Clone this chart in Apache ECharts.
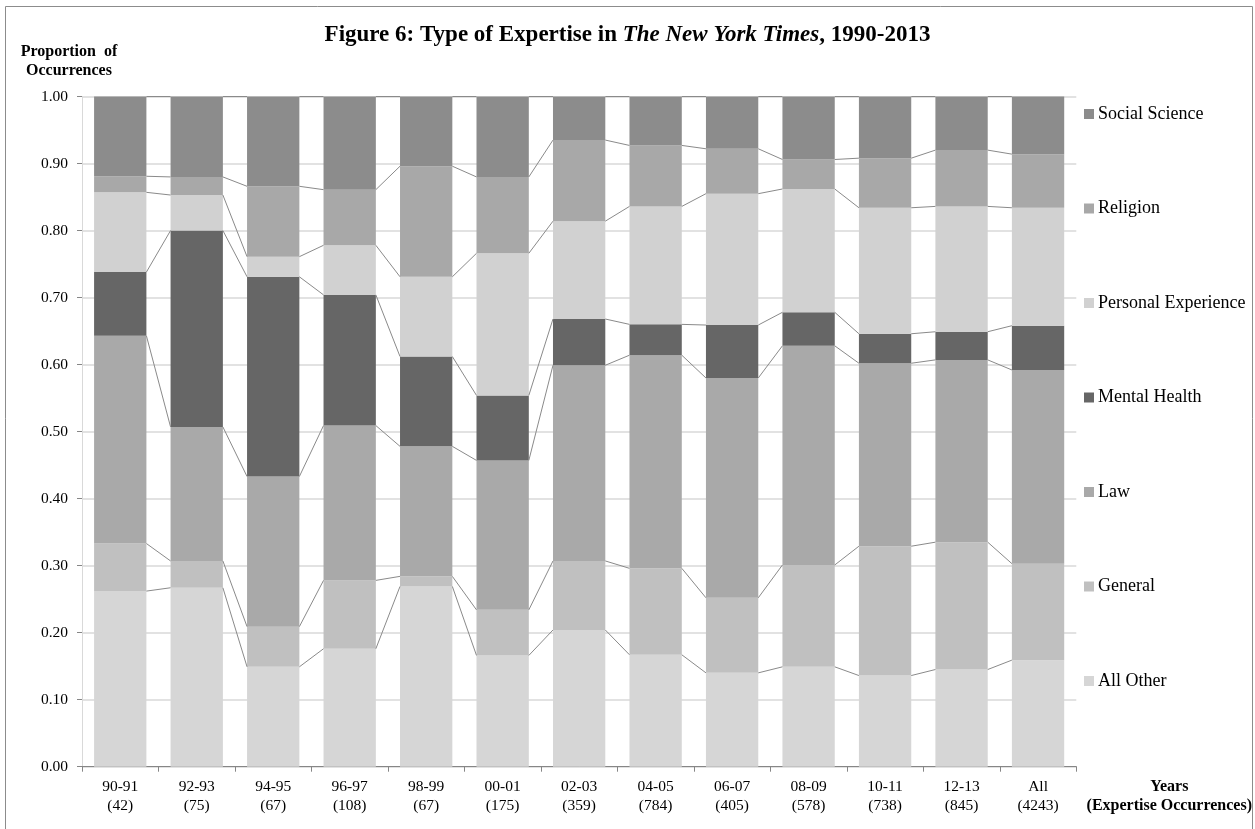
<!DOCTYPE html>
<html>
<head>
<meta charset="utf-8">
<title>Figure 6: Type of Expertise in The New York Times, 1990-2013</title>
<script src="https://cdn.jsdelivr.net/npm/echarts@6/dist/echarts.min.js"></script>
<style>
  html, body { margin: 0; padding: 0; background: #fff; }
  #chart { width: 1255px; height: 829px; }
</style>
</head>
<body>
<div id="chart"></div>
<script>
// periods and number of expertise occurrences per period
const periods = ['90-91', '92-93', '94-95', '96-97', '98-99', '00-01', '02-03', '04-05', '06-07', '08-09', '10-11', '12-13', 'All']
const occurrences = [42, 75, 67, 108, 67, 175, 359, 784, 405, 578, 738, 845, 4243]

// share of each type, bottom of the stack first
const allOther = [0.262, 0.267, 0.149, 0.176, 0.269, 0.166, 0.204, 0.167, 0.140, 0.149, 0.136, 0.145, 0.159]
const general = [0.071, 0.040, 0.060, 0.102, 0.015, 0.068, 0.103, 0.129, 0.112, 0.152, 0.193, 0.190, 0.144]
const law = [0.310, 0.200, 0.224, 0.231, 0.194, 0.223, 0.292, 0.318, 0.328, 0.327, 0.273, 0.272, 0.289]
const mentalHealth = [0.095, 0.293, 0.298, 0.195, 0.134, 0.097, 0.069, 0.046, 0.079, 0.050, 0.044, 0.042, 0.066]
const personalExperience = [0.119, 0.053, 0.030, 0.074, 0.119, 0.212, 0.146, 0.176, 0.196, 0.184, 0.188, 0.187, 0.176]
const religion = [0.024, 0.027, 0.105, 0.083, 0.165, 0.114, 0.121, 0.091, 0.067, 0.044, 0.074, 0.084, 0.080]
const socialScience = [0.119, 0.120, 0.134, 0.139, 0.104, 0.120, 0.065, 0.073, 0.078, 0.094, 0.092, 0.080, 0.086]

const yTicks = [0, 0.1, 0.2, 0.3, 0.4, 0.5, 0.6, 0.7, 0.8, 0.9, 1.0]

const FONT = 'Liberation Serif'
const BAR_RATIO = 0.684

const stackSeries = [
  { name: 'All Other', data: allOther, color: '#d6d6d6' },
  { name: 'General', data: general, color: '#c0c0c0' },
  { name: 'Law', data: law, color: '#a9a9a9' },
  { name: 'Mental Health', data: mentalHealth, color: '#666666' },
  { name: 'Personal Experience', data: personalExperience, color: '#d1d1d1' },
  { name: 'Religion', data: religion, color: '#a8a8a8' },
  { name: 'Social Science', data: socialScience, color: '#8c8c8c' }
]

// running totals at the top of each segment, used for the series lines
const tops = []
const running = periods.map(() => 0)
stackSeries.forEach(s => {
  s.data.forEach((v, i) => { running[i] += v })
  tops.push(running.slice())
})

const seriesLineData = []
tops.forEach(level => {
  for (let i = 0; i < periods.length - 1; i++) {
    seriesLineData.push([i, level[i], level[i + 1]])
  }
})

const renderSeriesLine = (params, api) => {
  const i = api.value(0)
  const half = api.size([1, 0])[0] * BAR_RATIO / 2
  const p1 = api.coord([i, api.value(1)])
  const p2 = api.coord([i + 1, api.value(2)])
  return {
    type: 'line',
    shape: { x1: p1[0] + half, y1: p1[1], x2: p2[0] - half, y2: p2[1] },
    style: { stroke: '#8a8a8a', lineWidth: 1 }
  }
}

const chart = echarts.init(document.getElementById('chart'))

const option = {
  animation: false,
  backgroundColor: '#ffffff',
  textStyle: { fontFamily: FONT },
  title: {
    left: 'center',
    top: 19,
    padding: [5, 5, 5, 25],
    text: '{b|Figure 6: Type of Expertise in }{i|The New York Times}{b|, 1990-2013}',
    textStyle: {
      rich: {
        b: { fontFamily: FONT, fontSize: 23, fontWeight: 'bold', color: '#000' },
        i: { fontFamily: FONT, fontSize: 23, fontWeight: 'bold', fontStyle: 'italic', color: '#000' }
      }
    }
  },
  legend: {
    orient: 'vertical',
    left: 1079,
    top: 100,
    icon: 'rect',
    itemWidth: 10,
    itemHeight: 10,
    itemGap: 76.5,
    selectedMode: false,
    data: stackSeries.map(s => s.name).reverse(),
    textStyle: { fontFamily: FONT, fontSize: 18, lineHeight: 18, color: '#000', padding: [0, 0, 0, -1] }
  },
  grid: { left: 82, right: 175, top: 96.5, bottom: 62.3 },
  xAxis: {
    type: 'category',
    data: periods,
    axisLine: { lineStyle: { color: '#868686', width: 1 } },
    axisTick: { show: true, length: 5, lineStyle: { color: '#868686' } },
    axisLabel: {
      margin: 11,
      fontFamily: FONT,
      fontSize: 15.5,
      lineHeight: 19,
      color: '#000',
      formatter: (value, idx) => value + '\n(' + occurrences[idx] + ')'
    },
    name: 'Years\n(Expertise Occurrences)',
    nameLocation: 'end',
    nameGap: 93,
    nameTextStyle: {
      fontFamily: FONT,
      fontSize: 16,
      fontWeight: 'bold',
      lineHeight: 19,
      color: '#000',
      align: 'center',
      verticalAlign: 'top',
      padding: [11, 0, 0, 0]
    }
  },
  yAxis: {
    type: 'value',
    min: yTicks[0],
    max: yTicks[yTicks.length - 1],
    interval: 0.1,
    axisLine: { show: true, lineStyle: { color: '#d9d9d9' } },
    axisTick: { show: true, length: 5, lineStyle: { color: '#868686' } },
    axisLabel: {
      margin: 14,
      fontFamily: FONT,
      fontSize: 15.5,
      color: '#000',
      formatter: v => v.toFixed(2)
    },
    splitLine: { lineStyle: { color: '#d9d9d9', width: 1.5 } },
    name: 'Proportion  of\nOccurrences',
    nameLocation: 'end',
    nameGap: 16,
    nameTextStyle: {
      fontFamily: FONT,
      fontSize: 16,
      fontWeight: 'bold',
      lineHeight: 19,
      color: '#000',
      align: 'center',
      verticalAlign: 'bottom',
      padding: [0, 26, 0, 0]
    }
  },
  graphic: [
    {
      type: 'rect',
      silent: true,
      shape: { x: 5.5, y: 6.5, width: 1247, height: 840 },
      style: { fill: 'none', stroke: '#8c8c8c', lineWidth: 1 }
    }
  ],
  series: stackSeries.map(s => ({
    name: s.name,
    type: 'bar',
    stack: 'share',
    barWidth: (BAR_RATIO * 100) + '%',
    data: s.data,
    itemStyle: { color: s.color },
    emphasis: { disabled: true }
  })).concat([{
    type: 'custom',
    name: 'series lines',
    renderItem: renderSeriesLine,
    data: seriesLineData,
    encode: { x: 0, y: [1, 2] },
    silent: true,
    z: 3
  }])
}

chart.setOption(option)
window.addEventListener('resize', () => chart.resize())
</script>
</body>
</html>
